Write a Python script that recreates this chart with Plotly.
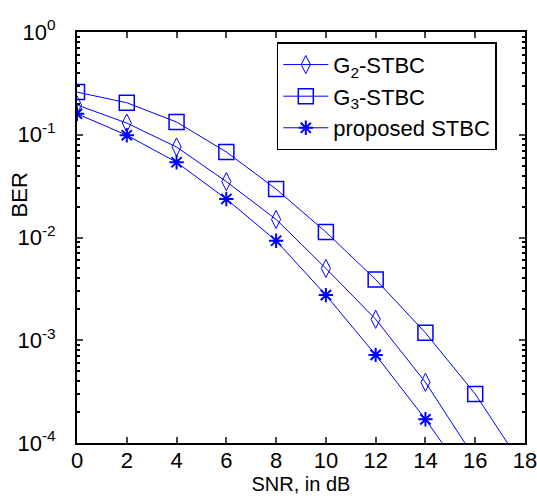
import plotly.graph_objects as go

snr = [0, 2, 4, 6, 8, 10, 12, 14, 16, 18]
ber_g2 = [0.195, 0.13, 0.076, 0.035, 0.015, 0.005, 0.0016, 0.00039, 0.00007, 0.00001]
ber_g3 = [0.26, 0.205, 0.133, 0.068, 0.0296, 0.0113, 0.0039, 0.00118, 0.0003, 0.000055]
ber_prop = [0.16, 0.099, 0.054, 0.0237, 0.0093, 0.00275, 0.00072, 0.00017, 0.000035, 0.000005]

x_ticks = [0, 2, 4, 6, 8, 10, 12, 14, 16, 18]
y_ticks = [1e-4, 1e-3, 1e-2, 1e-1, 1]
y_ticktext = ["10<sup>-4</sup>", "10<sup>-3</sup>", "10<sup>-2</sup>", "10<sup>-1</sup>", "10<sup>0</sup>"]
minor_vals = [m * 10.0 ** e for e in range(-4, 0) for m in range(2, 10)]

blue = "#0000ff"
fig = go.Figure()
fig.add_trace(go.Scatter(x=snr, y=ber_g2, name="G<sub>2</sub>-STBC", mode="lines+markers",
                         legendgroup="a",
                         line=dict(color=blue, width=1),
                         marker=dict(symbol="diamond-tall-open", size=13, color=blue, line=dict(width=1, color=blue))))
fig.add_trace(go.Scatter(x=snr, y=ber_g3, name="G<sub>3</sub>-STBC", mode="lines+markers",
                         legendgroup="b",
                         line=dict(color=blue, width=1),
                         marker=dict(symbol="square-open", size=15, color=blue, line=dict(width=1.5, color=blue))))
fig.add_trace(go.Scatter(x=snr, y=ber_prop, name="proposed STBC", mode="lines+markers",
                         legendgroup="c",
                         line=dict(color=blue, width=1),
                         marker=dict(symbol="asterisk-open", size=12, color=blue, line=dict(width=2, color=blue))))

font_family = "Liberation Sans, Arial, sans-serif"
fig.update_layout(
    width=537, height=498,
    margin=dict(l=77, r=12, t=32, b=55),
    paper_bgcolor="white", plot_bgcolor="white",
    font=dict(family=font_family, color="black", size=20),
    showlegend=True,
    legend=dict(x=0.446, y=0.975, xanchor="left", yanchor="top",
                bordercolor="black", borderwidth=1.5, bgcolor="white",
                font=dict(size=22), tracegroupgap=0, traceorder="grouped", itemwidth=45),
    xaxis=dict(range=[0, 18], tickvals=x_ticks, ticks="inside", ticklen=6, tickwidth=1.5,
               showline=True, linecolor="black", linewidth=2, mirror="ticks",
               showgrid=False, zeroline=False, tickfont=dict(size=22), automargin=False,
               ticklabelstandoff=-3, ticklabeloverflow="allow",
               title=dict(text="SNR, in dB", font=dict(size=20), standoff=2)),
    yaxis=dict(type="log", range=[-4, 0], tickvals=y_ticks, ticktext=y_ticktext,
               ticks="inside", ticklen=6, tickwidth=1.5, ticklabelstandoff=15,
               showline=True, linecolor="black", linewidth=2, mirror="ticks",
               showgrid=False, zeroline=False, tickfont=dict(size=22), automargin=False,
               minor=dict(tickvals=minor_vals, ticks="inside", ticklen=3, tickcolor="black", showgrid=False)),
    annotations=[dict(text="BER", xref="paper", yref="paper", x=-0.129, y=0.603,
                      textangle=-90, showarrow=False, font=dict(size=22),
                      xanchor="center", yanchor="middle")],
)
fig.write_html("out.html", config={"displayModeBar": False},
               post_script="document.body.style.margin='0px';")
